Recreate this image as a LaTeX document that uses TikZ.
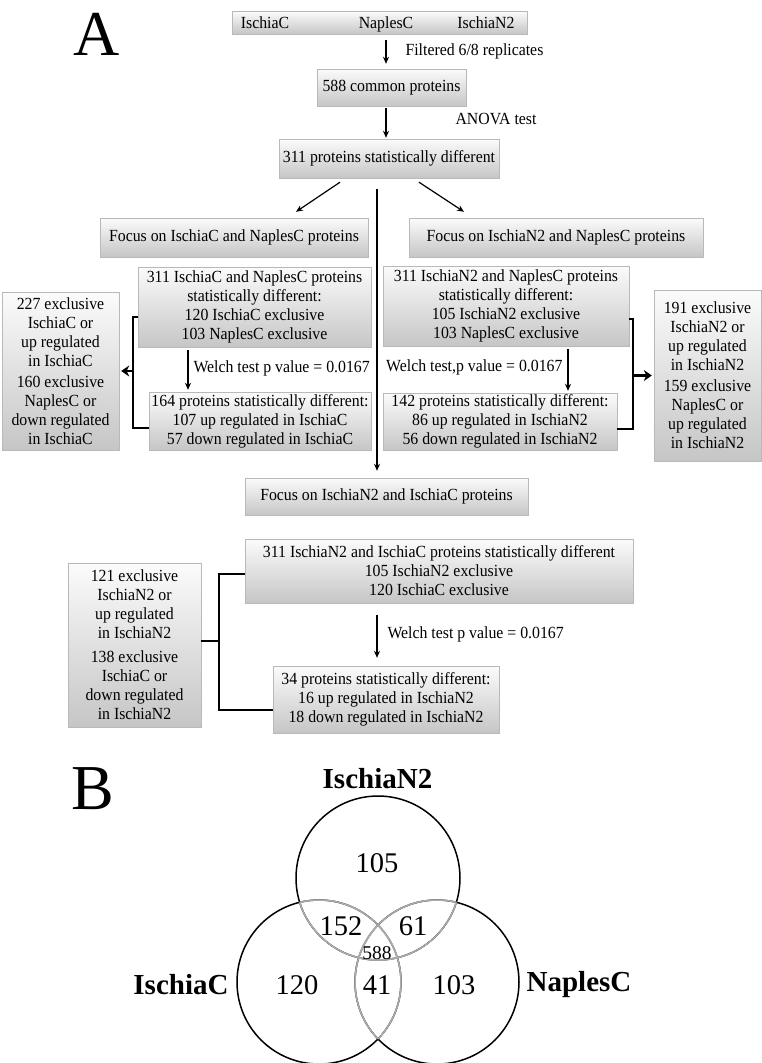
\documentclass[tikz,border=0pt]{standalone}
\usepackage{fontspec}
\setmainfont{Liberation Serif}
\newfontfamily\narrowfam{Liberation Serif}[FakeStretch=0.93]
\usetikzlibrary{arrows.meta}
\newcommand{\boxfont}{\narrowfam\fontsize{17}{19}\selectfont}
\newcommand{\panelfont}{\fontsize{64}{70}\selectfont}
\newcommand{\venfont}{\fontsize{28.5}{30}\selectfont}
\newcommand{\setfont}{\fontsize{29}{31}\selectfont\bfseries}

\begin{document}
\begin{tikzpicture}[x=1pt, y=-1pt,
    every node/.style={font=\boxfont},
    box/.style={draw=gray!55, top color=gray!3, bottom color=gray!45,
      inner sep=0pt, align=center},
    wh/.style 2 args={minimum width=#1pt, minimum height=#2pt},
    arr/.style={-{Stealth[length=7pt,width=6pt]}, line width=1.2pt},
    brk/.style={line width=2.5pt},
    brkarr/.style={brk, -{Stealth[length=8pt,width=11pt]}, shorten >=2pt}]
  % 1 unit = 1 px of the 761 x 1063 figure, y grows downwards
  \useasboundingbox (0,0) rectangle (761,1063);

  % ---------------- Panel A ----------------
  \node[font=\panelfont, inner sep=0pt] (lblA) at (96.5,34.5) {A};

  % columns used by the connectors
  \coordinate (cA) at (386,0);
  \coordinate (cM) at (377,0);
  \coordinate (cWL) at (188,0);
  \coordinate (cWR) at (568,0);
  \coordinate (bL) at (133,0);
  \coordinate (bR) at (633,0);
  \coordinate (bM) at (219,0);

  % samples
  \node[box, wh={295}{23}] (samples) at (379.5,22.5) {};
  \node[anchor=base] (sIC) at (265,28.5) {IschiaC};
  \node[anchor=base] (sNC) at (386,28.5) {NaplesC};
  \node[anchor=base] (sN2) at (486,28.5) {IschiaN2};

  \node[box, wh={149}{37}] (n588) at (391.5,87.5) {588 common proteins};
  \node[box, wh={220}{39}] (n311) at (389,158.5) {311 proteins statistically different};

  \draw[arr, shorten <=6pt, shorten >=5pt] (samples.south -| cA) -- (n588.north -| cA);
  \node[anchor=west] (filt) at (402,51) {Filtered 6/8 replicates};
  \draw[arr, shorten <=2pt, shorten >=1pt] (n588.south -| cA) -- (n311.north -| cA);
  \node[anchor=west] (anova) at (452,119) {ANOVA test};

  % the two pairwise focuses
  \node[box, wh={268}{39}] (focusL) at (234,237.5) {Focus on IschiaC and NaplesC proteins};
  \node[box, wh={294}{39}] (focusR) at (556,237.5) {Focus on IschiaN2 and NaplesC proteins};
  \draw[arr] ([xshift=-49pt, yshift=-4pt]n311.south) -- ([xshift=62pt, yshift=6pt]focusL.north);
  \draw[arr] ([xshift=30pt, yshift=-4pt]n311.south) -- ([xshift=-92pt, yshift=6pt]focusR.north);

  % IschiaC vs NaplesC
  \node[box, wh={233}{80}] (statL) at (254.5,307)
    {311 IschiaC and NaplesC proteins\\ statistically different:\\
     120 IschiaC exclusive\\ 103 NaplesC exclusive};
  \node[box, wh={222}{58}] (sigL) at (260,421)
    {164 proteins statistically different:\\ 107 up regulated in IschiaC\\
     57 down regulated in IschiaC};
  \node[box, wh={117}{158}] (exL) at (60.5,371)
    {227 exclusive\\ IschiaC or\\ up regulated\\ in IschiaC\\[2pt]
     160 exclusive\\ NaplesC or\\ down regulated\\ in IschiaC};
  \draw[arr, shorten <=3pt, shorten >=2pt] (statL.south -| cWL) -- (sigL.north -| cWL);
  \node[anchor=west] (welchL) at (190,368) {Welch test p value = 0.0167};

  \coordinate (lt) at ([yshift=-10pt]statL.west);
  \coordinate (lb) at ([yshift=-7pt]sigL.west);
  \draw[brk] (lt) -- (lt -| bL) -- (lb -| bL) -- (lb);
  \draw[brkarr] (exL.east -| bL) -- (exL.east);

  % IschiaN2 vs NaplesC
  \node[box, wh={246}{80}] (statR) at (506,306)
    {311 IschiaN2 and NaplesC proteins\\ statistically different:\\
     105 IschiaN2 exclusive\\ 103 NaplesC exclusive};
  \node[box, wh={234}{57}] (sigR) at (500,421.5)
    {142 proteins statistically different:\\ 86 up regulated in IschiaN2\\
     56 down regulated in IschiaN2};
  \node[box, wh={107}{171}] (exR) at (707.5,375.5)
    {191 exclusive\\ IschiaN2 or\\ up regulated\\ in IschiaN2\\[2pt]
     159 exclusive\\ NaplesC or\\ up regulated\\ in IschiaN2};
  \draw[arr, shorten <=3pt, shorten >=2pt] (statR.south -| cWR) -- (sigR.north -| cWR);
  \node[anchor=east] (welchR) at (566,367) {Welch test,p value = 0.0167};

  \coordinate (rt) at ([yshift=-13pt]statR.east);
  \coordinate (rb) at ([yshift=-7.5pt]sigR.east);
  \draw[brk] (rt) -- (rt -| bR) -- (rb -| bR) -- (rb);
  \draw[brkarr] (exR.west -| bR) -- (exR.west);

  % IschiaN2 vs IschiaC
  \node[box, wh={283}{37}] (focusM) at (386.5,496.5) {Focus on IschiaN2 and IschiaC proteins};
  \draw[arr, line width=1.4pt, shorten <=11pt, shorten >=7pt] (n311.south -| cM) -- (focusM.north -| cM);

  \node[box, wh={388}{64}] (statM) at (439,571)
    {311 IschiaN2 and IschiaC proteins statistically different\\
     105 IschiaN2 exclusive\\ 120 IschiaC exclusive};
  \node[box, wh={226}{67}] (sigM) at (386,699.5)
    {34 proteins statistically different:\\ 16 up regulated in IschiaN2\\
     18 down regulated in IschiaN2};
  \node[box, wh={133}{164}] (exM) at (134.5,645)
    {121 exclusive\\ IschiaN2 or\\ up regulated\\ in IschiaN2\\[5pt]
     138 exclusive\\ IschiaC or\\ down regulated\\ in IschiaN2};
  \draw[arr, shorten <=12pt, shorten >=8pt] (statM.south -| cM) -- (sigM.north -| cM);
  \node[anchor=west] (welchM) at (384,634) {Welch test p value = 0.0167};

  \coordinate (mt) at ([yshift=-3pt]statM.west);
  \coordinate (mb) at ([yshift=-10.5pt]sigM.west);
  \coordinate (me) at ([yshift=4pt]exM.east);
  \draw[brk] (mt) -- (mt -| bM) -- (mb -| bM) -- (mb);
  \draw[brk] (me) -- (me -| bM);

  % ---------------- Panel B ----------------
  \node[font=\panelfont, inner sep=0pt] (lblB) at (92.5,788.5) {B};

  \coordinate (cN2) at (378,878);
  \coordinate (cIC) at (319,982);
  \coordinate (cNC) at (437,982);
  \def\rad{82pt}

  % circles black, the arcs lying inside another circle grey
  \draw[line width=1.5pt] (cN2) circle[radius=\rad]
    (cIC) circle[radius=\rad] (cNC) circle[radius=\rad];
  \foreach \c/\a in {cN2/cIC, cN2/cNC, cIC/cN2, cIC/cNC, cNC/cN2, cNC/cIC} {
    \begin{scope}
      \clip (\a) circle[radius=\rad];
      \draw[gray!65, line width=1.5pt] (\c) circle[radius=\rad];
    \end{scope}
  }

  \node[font=\setfont] (tN2) at (377.5,779) {IschiaN2};
  \node[font=\setfont] (tIC) at (181,985) {IschiaC};
  \node[font=\setfont] (tNC) at (579,985) {NaplesC};

  \node[font=\venfont] (v105) at (377,863) {105};
  \node[font=\venfont] (v152) at (341,926) {152};
  \node[font=\venfont] (v61) at (413,926) {61};
  \node[font=\fontsize{19.5}{20}\selectfont, inner sep=0pt] (v588) at (377,953) {588};
  \node[font=\venfont] (v120) at (297,985) {120};
  \node[font=\venfont] (v41) at (377,985) {41};
  \node[font=\venfont] (v103) at (454,985) {103};
\end{tikzpicture}
\end{document}
